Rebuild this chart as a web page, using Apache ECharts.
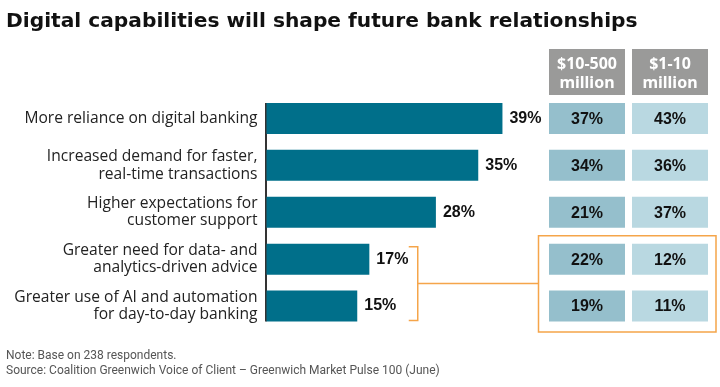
<!DOCTYPE html>
<html>
<head>
<meta charset="utf-8">
<script src="https://cdn.jsdelivr.net/npm/echarts@6/dist/echarts.min.js"></script>
<style>html,body{margin:0;padding:0;background:#fff}#c{width:720px;height:387px}</style>
</head>
<body>
<div id="c"></div>
<script>
// ---- data ----
const titleText = 'Digital capabilities will shape future bank relationships';
const categories = [
  'More reliance on digital banking',
  'Increased demand for faster,\nreal-time transactions',
  'Higher expectations for\ncustomer support',
  'Greater need for data- and\nanalytics-driven advice',
  'Greater use of AI and automation\nfor day-to-day banking'
];
const barValues = [39, 35, 28, 17, 15];
const columnHeaders = ['$10-500\nmillion', '$1-10\nmillion'];
const col1Values = [37, 34, 21, 22, 19];
const col2Values = [43, 36, 37, 12, 11];
const highlightRows = [3, 4];
const bracketAt = 25; // value-axis position of the bracket
const noteLines = ['Note: Base on 238 respondents.',
  'Source: Coalition Greenwich Voice of Client \u2013 Greenwich Market Pulse 100 (June)'];

// ---- layout ----
const gridTop = 95, gridHeight = 234.5;
const barLeft = 266.5, barMax = 50, barGridWidth = 302.5;
const tableLeft = 545.5, tableWidth = 166;
const barW = 31, cellW = 76, cellH = 31;
const colColors = ['#95BFCC', '#B9D8E1'];
const barColor = '#006F8A';
const orange = '#F5A54A';
const font = '"Open Sans", Roboto, sans-serif';
const titleFont = '"DejaVu Sans", Roboto, sans-serif';
const noteFont = 'Roboto, "Liberation Sans", sans-serif';
const numFont = '"Liberation Sans", Arial, sans-serif';

const tableData = [];
col1Values.forEach((v, i) => tableData.push([0, i, v]));
col2Values.forEach((v, i) => tableData.push([1, i, v]));

const chart = echarts.init(document.getElementById('c'), null, {renderer: 'canvas'});
chart.setOption({
  animation: false,
  title: [
    {text: titleText, left: 1, top: 7,
     textStyle: {fontFamily: titleFont, fontWeight: 'bold', fontSize: 20.2, color: '#111'}},
    {text: noteLines.join('\n'), left: 1, top: 343,
     textStyle: {fontFamily: noteFont, fontWeight: 'normal', fontSize: 12, lineHeight: 15, color: '#555'}}
  ],
  grid: [
    {left: barLeft, top: gridTop, width: barGridWidth, height: gridHeight},
    {left: tableLeft, top: gridTop, width: tableWidth, height: gridHeight}
  ],
  xAxis: [
    {type: 'value', gridIndex: 0, min: 0, max: barMax, show: false},
    {type: 'category', gridIndex: 1, data: columnHeaders, position: 'top',
     axisLine: {show: false}, axisTick: {show: false},
     axisLabel: {margin: 0, color: '#fff', fontFamily: '"Noto Sans", Lato, sans-serif', fontWeight: 'bold',
       fontSize: 16, lineHeight: 19, backgroundColor: '#9A9A99', width: cellW, align: 'center',
       padding: [6, 0, 2, 0]}}
  ],
  yAxis: [
    {type: 'category', gridIndex: 0, data: categories, inverse: true,
     axisLine: {show: false}, axisTick: {show: false},
     axisLabel: {margin: 9, color: '#222', fontFamily: font, fontSize: 15.6, lineHeight: 17.5, align: 'right'}},
    {type: 'category', gridIndex: 1, data: categories, inverse: true, show: false}
  ],
  series: [
    {type: 'bar', xAxisIndex: 0, yAxisIndex: 0, data: barValues, barWidth: barW,
     itemStyle: {color: barColor},
     label: {show: true, position: 'right', distance: 7, formatter: '{c}%',
       fontFamily: numFont, fontWeight: 'bold', fontSize: 16, color: '#111'}},
    {type: 'custom', xAxisIndex: 0, yAxisIndex: 0, data: [[0, 0, categories.length - 1]],
     renderItem: function (params, api) {
       const a = api.coord([0, api.value(1)]);
       const b = api.coord([0, api.value(2)]);
       return {type: 'line', shape: {x1: a[0] - 0.5, y1: a[1] - barW / 2, x2: a[0] - 0.5, y2: b[1] + barW / 2},
         style: {stroke: '#000', lineWidth: 1.6}};
     }},
    {type: 'custom', xAxisIndex: 0, yAxisIndex: 0, data: [[bracketAt, highlightRows[0], highlightRows[1]]],
     renderItem: function (params, api) {
       const a = api.coord([api.value(0), api.value(1)]);
       const b = api.coord([api.value(0), api.value(2)]);
       const top = a[1] - 12.5, bot = b[1] + 14.5, x = a[0], mid = (top + bot) / 2;
       const boxLeft = tableLeft + (tableWidth / 2 - cellW) / 2 - 10.5;
       return {type: 'group', children: [
         {type: 'polyline', shape: {points: [[x - 9, top], [x, top], [x, bot], [x - 9, bot]]},
          style: {stroke: orange, lineWidth: 1.5, fill: null}},
         {type: 'line', shape: {x1: x, y1: mid, x2: boxLeft, y2: mid}, style: {stroke: orange, lineWidth: 1.5}}
       ]};
     }},
    {type: 'custom', xAxisIndex: 1, yAxisIndex: 1, data: tableData,
     renderItem: function (params, api) {
       const c = api.coord([api.value(0), api.value(1)]);
       return {type: 'group', children: [
         {type: 'rect', shape: {x: c[0] - cellW / 2, y: c[1] - cellH / 2, width: cellW, height: cellH},
          style: {fill: colColors[api.value(0)]}},
         {type: 'text', style: {text: api.value(2) + '%', x: c[0], y: c[1] + 1, align: 'center', verticalAlign: 'middle',
          font: 'bold 16px ' + numFont, fill: '#111'}}
       ]};
     }},
    {type: 'custom', xAxisIndex: 1, yAxisIndex: 1, data: [[0, highlightRows[0], 1, highlightRows[1]]],
     renderItem: function (params, api) {
       const a = api.coord([api.value(0), api.value(1)]);
       const b = api.coord([api.value(2), api.value(3)]);
       const x1 = a[0] - cellW / 2 - 10.5, y1 = a[1] - cellH / 2 - 8;
       const x2 = b[0] + cellW / 2 + 8, y2 = b[1] + cellH / 2 + 10.5;
       return {type: 'rect', shape: {x: x1, y: y1, width: x2 - x1, height: y2 - y1},
         style: {fill: null, stroke: orange, lineWidth: 1.5}};
     }}
  ]
});
</script>
</body>
</html>
